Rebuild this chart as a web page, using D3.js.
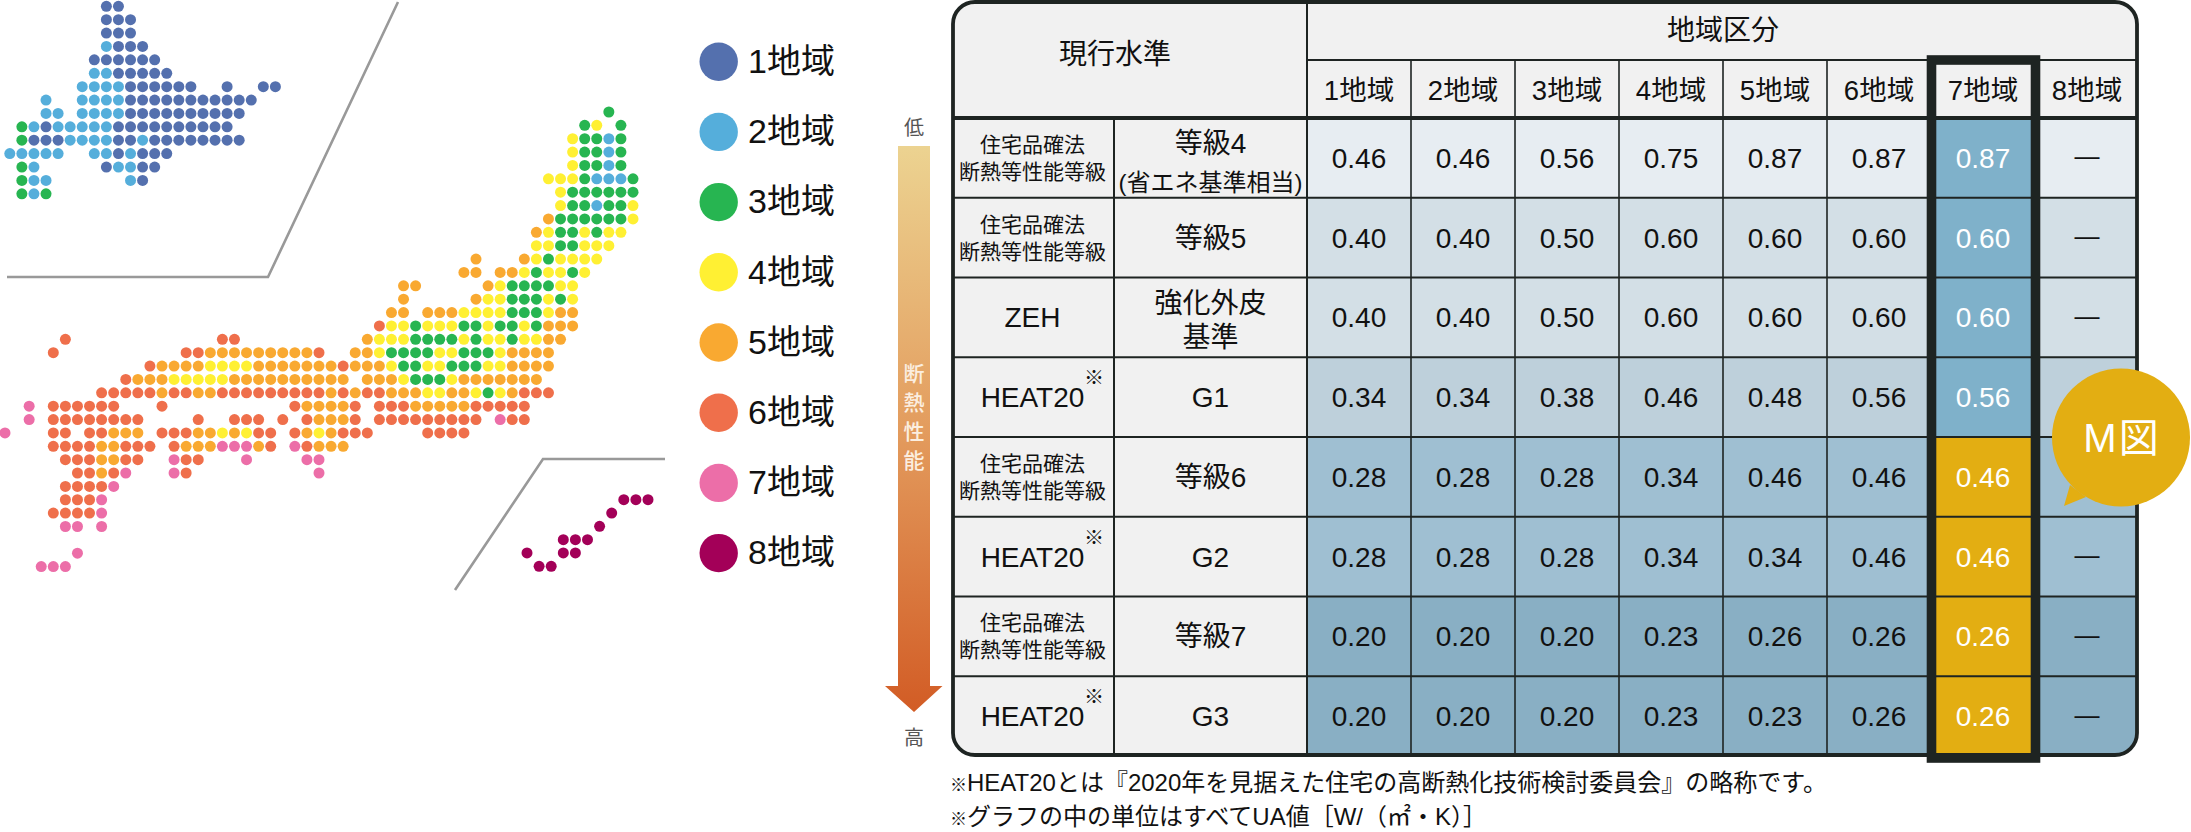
<!DOCTYPE html>
<html lang="ja">
<head>
<meta charset="utf-8">
<title>地域区分</title>
<script src="https://cdn.jsdelivr.net/npm/d3@7"></script>
<style>
    html, body { margin: 0; padding: 0; background: #fff; }
    svg { display: block; }
    text { font-family: "Liberation Sans", "Noto Sans CJK JP", sans-serif; }
</style>
</head>
<body>
<svg id="chart-svg" width="2191" height="832"></svg>
<script>
// Region legend
const regions = ["1地域", "2地域", "3地域", "4地域", "5地域", "6地域", "7地域", "8地域"];

// Map tiles: each row is [first column, region per column], "." = empty, spaces are only for reading
const hokkaidoRows = [
    [8, "11"],
    [8, "111"],
    [8, "111"],
    [8, "2 111"],
    [7, "111111"],
    [7, "22 11111"],
    [6, "2222 111111 .. 1 .. 11"],
    [3, "2 .. 2222 11111111111"],
    [3, "22 . 2222 1111111111"],
    [1, "3 2 1 22222 1111111111"],
    [1, "3 111 2222 11 2 11111111"],
    [0, "22222 .. 22 1 2 111"],
    [1, "3 2 ..... 1 22 11"],
    [1, "3 22 ...... 2 1"],
    [1, "3 2 3"]
];

const honshuRows = [
    [50, "3"],
    [48, "34.3"],
    [47, "4 33 2 3"],
    [47, "4 33 2 3"],
    [47, "4 33 2 3"],
    [45, "444 3 222 3"],
    [46, "4 333333"],
    [46, "4 33 2 33 4"],
    [45, "5 333333 4"],
    [44, "5 4 33 4 3 44"],
    [44, "44 33 444"],
    [39, "5 ... 5 4 3 4444"],
    [38, "55 . 55 4 3 44 3 4"],
    [33, "55 ..... 5 4 3333 44"],
    [33, "5 ..... 5 44 333 4 3 4"],
    [32, "55 . 555 4444 333 4 55"],
    [31, "6 44 3 444 33 4 33 4 3 555"],
    [5, "6 ............ 66 .......... 5 444 3333 4 3 44 3 44 55"],
    [4, "6 .......... 66 555555555 6 .. 55 4 3333 44 333 4 5555"],
    [12, "6 5555 4444 5555555 6 555 4 33 44 333 44 5555"],
    [10, "6 555 44444 5555555555 . 555 4 333 4 5555555"],
    [8, "66666 5 66 55 666666666 5 6 5 66 555 44 55 4 3 4 5 666"],
    [2, "7 . 666666 ... 6 .......... 6 5555 6 . 666 55555 66666"],
    [2, "7 . 66666666 .... 6 .. 666 . 6 . 6 555 6 . 666666666 . 7 66"],
    [0, "7 ... 66 . 66 555 . 666 55 4 5 4 66 . 6 5 4 5 666 .... 6666"],
    [4, "6666 55 666 . 6 555 777 5 6 . 7 6 555"],
    [5, "666 55 66 .. 7 66 ... 7 .... 77"],
    [6, "66 5 6 7 ... 7 6 .......... 7"],
    [5, "6666 7"],
    [5, "666 7"],
    [4, "6666 7"],
    [5, "77 . 7"],
    [0, ""],
    [6, "7"],
    [3, "777"]
];

const okinawaRows = [
    [8, "888"],
    [7, "8"],
    [6, "8"],
    [3, "888"],
    [0, "8 .. 88"],
    [1, "88"]
];

// Table
const groupTitle = "地域区分";
const standardTitle = "現行水準";
const standardLabels = ["住宅品確法|断熱等性能等級", "住宅品確法|断熱等性能等級", "ZEH", "HEAT20", "住宅品確法|断熱等性能等級", "HEAT20", "住宅品確法|断熱等性能等級", "HEAT20"];
const gradeLabels = ["等級4|(省エネ基準相当)", "等級5", "強化外皮|基準", "G1", "等級6", "G2", "等級7", "G3"];
const uaValues = [
    [0.46, 0.46, 0.56, 0.75, 0.87, 0.87, 0.87, null],
    [0.40, 0.40, 0.50, 0.60, 0.60, 0.60, 0.60, null],
    [0.40, 0.40, 0.50, 0.60, 0.60, 0.60, 0.60, null],
    [0.34, 0.34, 0.38, 0.46, 0.48, 0.56, 0.56, null],
    [0.28, 0.28, 0.28, 0.34, 0.46, 0.46, 0.46, null],
    [0.28, 0.28, 0.28, 0.34, 0.34, 0.46, 0.46, null],
    [0.20, 0.20, 0.20, 0.23, 0.26, 0.26, 0.26, null],
    [0.20, 0.20, 0.20, 0.23, 0.23, 0.26, 0.26, null]
];
const focusRegion = "7地域";
const focusFromRow = 4;

const arrowLow = "低";
const arrowHigh = "高";
const arrowTitle = ["断", "熱", "性", "能"];
const calloutLabel = "M図";
const footnotes = ["HEAT20とは『2020年を見据えた住宅の高断熱化技術検討委員会』の略称です。", "グラフの中の単位はすべてUA値［W/（㎡・K）］"];

const regionColors = ["#5470ae", "#55aedb", "#27b551", "#fff033", "#f9a931", "#ef6f4b", "#ec6ea8", "#a30058"];
const rowFills = ["#e7edf2", "#d3dfe6", "#d3dfe6", "#bed0db", "#9fbfd2", "#9fbfd2", "#89afc4", "#89afc4"];
const ink = "#1e2422";
const gold = "#e3ae12";

const svg = d3.select("#chart-svg");
const color = d3.scaleOrdinal(["1", "2", "3", "4", "5", "6", "7", "8"], regionColors);

// Turn the row strings into one tile per dot
const toTiles = rows => rows.flatMap(([start, codes], row) =>
    [...codes.replace(/ /g, "")]
        .map((code, i) => ({col: start + i, row: row, code: code}))
        .filter(d => d.code !== "."));

const drawTiles = (rows, xScale, yScale) => {
    svg.append("g")
        .selectAll("circle")
        .data(toTiles(rows))
        .join("circle")
        .attr("cx", d => xScale(d.col))
        .attr("cy", d => yScale(d.row))
        .attr("r", 5.5)
        .attr("fill", d => color(d.code));
};

drawTiles(hokkaidoRows,
    d3.scaleLinear().domain([0, 22]).range([9.8, 275.4]),
    d3.scaleLinear().domain([0, 14]).range([6.3, 193.8]));
drawTiles(honshuRows,
    d3.scaleLinear().domain([0, 52]).range([5, 633]),
    d3.scaleLinear().domain([0, 34]).range([112, 566.6]));
drawTiles(okinawaRows,
    d3.scaleLinear().domain([0, 10]).range([527, 648]),
    d3.scaleLinear().domain([0, 5]).range([499.7, 566.3]));

// Inset dividers
const divider = d3.line();
svg.append("path")
    .attr("d", divider([[7, 277], [268, 277], [398, 2]]))
    .attr("fill", "none").attr("stroke", "#999").attr("stroke-width", 2.6);
svg.append("path")
    .attr("d", divider([[455, 590], [543, 459], [665, 459]]))
    .attr("fill", "none").attr("stroke", "#999").attr("stroke-width", 2.6);

// Legend
const legendY = d3.scalePoint().domain(regions).range([61.7, 553.1]);
const legend = svg.append("g")
    .selectAll("g")
    .data(regions)
    .join("g")
    .attr("transform", d => "translate(0," + legendY(d) + ")");
legend.append("circle")
    .attr("cx", 718.7)
    .attr("r", 19.2)
    .attr("fill", (d, i) => regionColors[i]);
legend.append("text")
    .attr("x", 748)
    .attr("y", -1)
    .attr("dy", "0.36em")
    .attr("font-size", 34)
    .attr("fill", "#111")
    .text(d => d);

// Gradient arrow
const defs = svg.append("defs");
const gradient = defs.append("linearGradient")
    .attr("id", "arrow-fill")
    .attr("gradientUnits", "userSpaceOnUse")
    .attr("x1", 0).attr("x2", 0).attr("y1", 146).attr("y2", 712);
gradient.append("stop").attr("offset", 0).attr("stop-color", "#ecd391");
gradient.append("stop").attr("offset", 0.5).attr("stop-color", "#e39c5e");
gradient.append("stop").attr("offset", 1).attr("stop-color", "#d25c25");

svg.append("path")
    .attr("d", d3.line()([[898, 146], [930, 146], [930, 686], [942.5, 686], [914, 712], [885, 686], [898, 686]]) + "Z")
    .attr("fill", "url(#arrow-fill)");
svg.append("text").attr("x", 914).attr("y", 128).attr("dy", "0.36em")
    .attr("text-anchor", "middle").attr("font-size", 20).attr("fill", "#555").text(arrowLow);
svg.append("text").attr("x", 914).attr("y", 738).attr("dy", "0.36em")
    .attr("text-anchor", "middle").attr("font-size", 20).attr("fill", "#555").text(arrowHigh);
svg.append("g")
    .selectAll("text")
    .data(arrowTitle)
    .join("text")
    .attr("x", 914)
    .attr("y", (d, i) => 373 + i * 29)
    .attr("dy", "0.36em")
    .attr("text-anchor", "middle")
    .attr("font-size", 21)
    .attr("font-weight", 500)
    .attr("fill", "#fbeee0")
    .text(d => d);

// Table scales
const tableLeft = 953, standardRight = 1114, gradeRight = 1307, tableRight = 2137;
const tableTop = 2, subHeader = 60, headerBottom = 118, tableBottom = 755;
const xRegion = d3.scaleBand().domain(regions).range([gradeRight, 2139]);
const yRow = d3.scaleBand().domain(d3.range(uaValues.length)).range([headerBottom, 756]);

defs.append("clipPath").attr("id", "table-clip")
    .append("rect")
    .attr("x", tableLeft).attr("y", tableTop)
    .attr("width", tableRight - tableLeft).attr("height", tableBottom - tableTop)
    .attr("rx", 22);

const table = svg.append("g");
const cells = table.append("g").attr("clip-path", "url(#table-clip)");

// Header and label background
cells.append("rect")
    .attr("x", tableLeft).attr("y", tableTop)
    .attr("width", tableRight - tableLeft).attr("height", tableBottom - tableTop)
    .attr("fill", "#f1f1f1");

// Value cells
const valueCells = uaValues.flatMap((values, row) =>
    values.map((value, i) => ({row: row, region: regions[i], value: value})));
const isFocus = d => d.region === focusRegion;

cells.selectAll("rect.cell")
    .data(valueCells)
    .join("rect")
    .attr("class", "cell")
    .attr("x", d => xRegion(d.region))
    .attr("y", d => yRow(d.row))
    .attr("width", xRegion.bandwidth())
    .attr("height", yRow.bandwidth())
    .attr("fill", d => isFocus(d) ? (d.row >= focusFromRow ? gold : "#7fb1ca") : rowFills[d.row]);

// Grid lines
const gridLines = table.append("g").attr("clip-path", "url(#table-clip)").attr("stroke", ink);
gridLines.selectAll("line.row")
    .data(d3.range(1, uaValues.length))
    .join("line")
    .attr("class", "row")
    .attr("x1", tableLeft).attr("x2", tableRight)
    .attr("y1", d => yRow(d)).attr("y2", d => yRow(d))
    .attr("stroke-width", 2);
gridLines.selectAll("line.col")
    .data(regions.slice(1))
    .join("line")
    .attr("class", "col")
    .attr("x1", d => xRegion(d)).attr("x2", d => xRegion(d))
    .attr("y1", subHeader).attr("y2", tableBottom)
    .attr("stroke-width", 1.6);
gridLines.append("line")
    .attr("x1", gradeRight).attr("x2", tableRight).attr("y1", subHeader).attr("y2", subHeader)
    .attr("stroke-width", 2);
gridLines.append("line")
    .attr("x1", gradeRight).attr("x2", gradeRight).attr("y1", tableTop).attr("y2", tableBottom)
    .attr("stroke-width", 2);
gridLines.append("line")
    .attr("x1", standardRight).attr("x2", standardRight).attr("y1", headerBottom).attr("y2", tableBottom)
    .attr("stroke-width", 2);
gridLines.append("line")
    .attr("x1", tableLeft).attr("x2", tableRight).attr("y1", headerBottom).attr("y2", headerBottom)
    .attr("stroke-width", 4);

// Table outline
table.append("rect")
    .attr("x", tableLeft).attr("y", tableTop)
    .attr("width", tableRight - tableLeft).attr("height", tableBottom - tableTop)
    .attr("rx", 22)
    .attr("fill", "none")
    .attr("stroke", ink)
    .attr("stroke-width", 3.8);

// Heavy frame round the focus column
const focusX = xRegion(focusRegion);
table.append("rect")
    .attr("x", focusX + 0.5).attr("y", 60)
    .attr("width", xRegion.bandwidth()).attr("height", 698)
    .attr("fill", "none")
    .attr("stroke", ink)
    .attr("stroke-width", 9.6);

// Table text
const label = (x, y, size, content, fill) => table.append("text")
    .attr("x", x).attr("y", y)
    .attr("dy", "0.36em")
    .attr("text-anchor", "middle")
    .attr("font-size", size)
    .attr("fill", fill || "#111")
    .text(content);

label((tableLeft + gradeRight) / 2 - 15, 54, 28, standardTitle);
label((gradeRight + tableRight) / 2 + 1, 30, 28, groupTitle);
regions.forEach(d => label(xRegion(d) + xRegion.bandwidth() / 2, 90, 27.5, d));

const standardX = (tableLeft + standardRight) / 2 - 1;
const gradeX = (standardRight + gradeRight) / 2;
standardLabels.forEach((d, row) => {
    const cy = yRow(row) + yRow.bandwidth() / 2;
    const lines = d.split("|");
    if (lines.length > 1) {
        label(standardX, cy - 13.5, 21, lines[0]);
        label(standardX, cy + 13.5, 21, lines[1]);
    } else {
        label(standardX, cy, 28, d);
        if (d === "HEAT20") label(1094, cy - 19, 20, "※");
    }
});
gradeLabels.forEach((d, row) => {
    const cy = yRow(row) + yRow.bandwidth() / 2;
    const lines = d.split("|");
    if (lines.length > 1 && row === 0) {
        label(gradeX, cy - 15, 28, lines[0]);
        label(gradeX, cy + 24, 24, lines[1]);
    } else if (lines.length > 1) {
        label(gradeX, cy - 14, 28, lines[0]);
        label(gradeX, cy + 20, 28, lines[1]);
    } else {
        label(gradeX, cy, 28, d);
    }
});
valueCells.forEach(d => {
    const x = xRegion(d.region) + xRegion.bandwidth() / 2;
    const y = yRow(d.row) + yRow.bandwidth() / 2;
    if (d.value === null) {
        label(x, y - 1.5, 25, "—");
    } else {
        label(x, y, 28, d3.format(".2f")(d.value), isFocus(d) ? "#fff" : "#111");
    }
});

// Footnotes
const notes = svg.append("g")
    .selectAll("text")
    .data(footnotes)
    .join("text")
    .attr("x", 950)
    .attr("y", (d, i) => 782.5 + i * 33.5)
    .attr("dy", "0.36em")
    .attr("font-size", 24)
    .attr("fill", "#111");
notes.append("tspan").attr("font-size", 17).text("※");
notes.append("tspan").text(d => d);

// Callout bubble
svg.append("path")
    .attr("d", d3.line()([[2070, 485], [2064, 506], [2086, 497]]) + "Z")
    .attr("fill", gold);
svg.append("circle")
    .attr("cx", 2121).attr("cy", 437.5).attr("r", 69)
    .attr("fill", gold);
svg.append("text")
    .attr("x", 2122).attr("y", 438).attr("dy", "0.36em")
    .attr("text-anchor", "middle")
    .attr("font-size", 40)
    .attr("letter-spacing", 2)
    .attr("fill", "#fff")
    .text(calloutLabel);
</script>
</body>
</html>
